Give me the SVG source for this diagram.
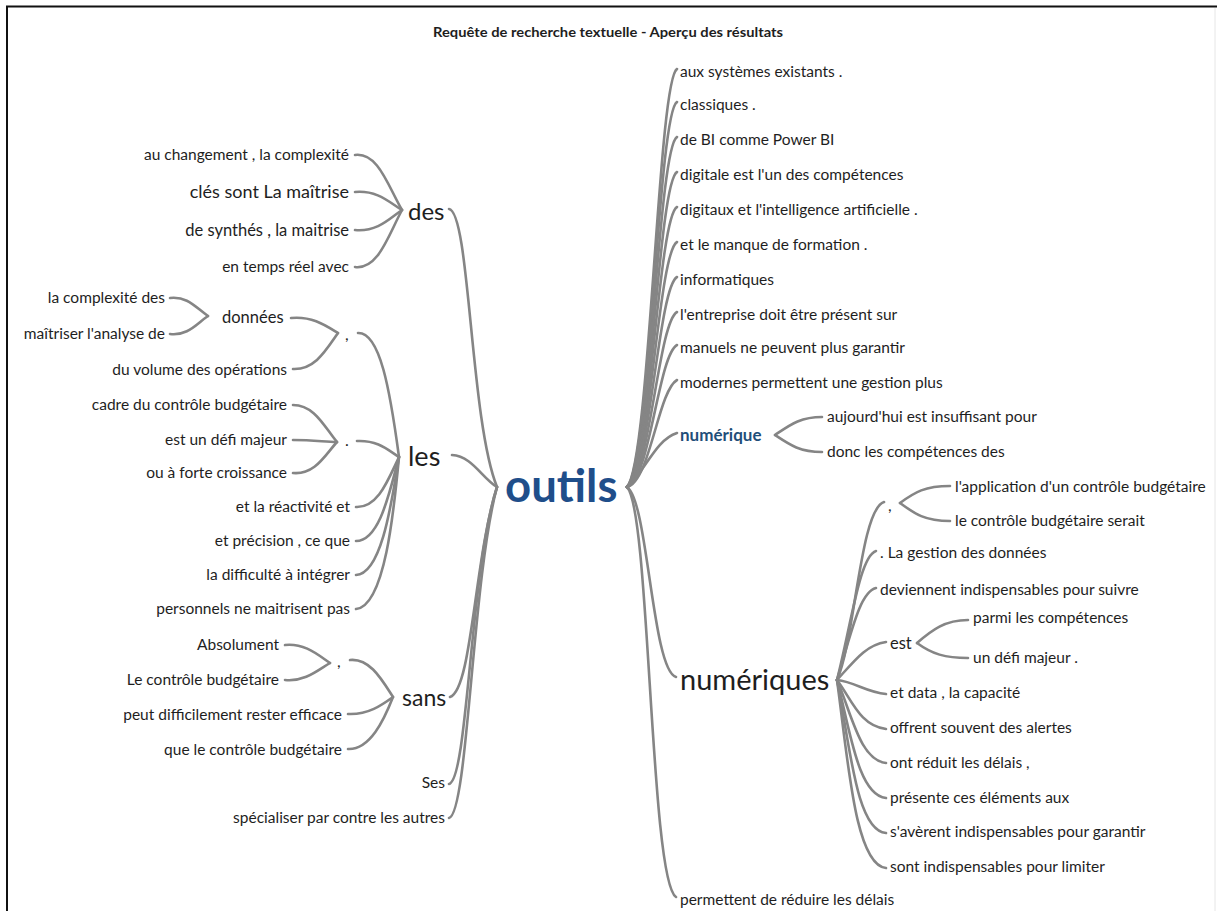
<svg xmlns="http://www.w3.org/2000/svg" width="1217" height="911" viewBox="0 0 1217 911">
<style>
text{font-family:Lato,"Open Sans","Liberation Sans",sans-serif;fill:#1e1e1e}
.t{font-size:15.5px}
.e{text-anchor:end}
.c path{fill:none;stroke:#858585;stroke-width:2.6;stroke-linecap:round}
.title{font-size:12.5px;font-weight:bold;text-anchor:middle}
.blue{fill:#1f4e8a;font-weight:bold}
</style>
<rect x="0" y="0" width="1217" height="911" fill="#fff"/>
<path d="M7,911 V6.5 H1217" fill="none" stroke="#111" stroke-width="2"/>
<line x1="1215" y1="8" x2="1215" y2="911" stroke="#e6e6e6" stroke-width="1"/>
<text class="title" x="608" y="37" textLength="350" lengthAdjust="spacingAndGlyphs">Requête de recherche textuelle - Aperçu des résultats</text>

<g class="c" id="connectors">
<path d="M355,155 C378,152 388,186 402,210"/>
<path d="M355,192 C378,190 390,203 402,210"/>
<path d="M355,230 C378,232 390,218 402,210"/>
<path d="M355,267 C378,270 388,236 402,210"/>
<path d="M449,209 C470,212 470,420 497,487"/>
<path d="M170,298 C188,296 196,308 208,316"/>
<path d="M170,334 C188,336 196,324 208,316"/>
<path d="M291,318 C312,316 325,325 338,333"/>
<path d="M293,369 C315,370 326,350 338,333"/>
<path d="M358,333 C380,332 390,390 399,457"/>
<path d="M293,405 C315,405 325,428 337,442"/>
<path d="M293,440 C315,440 325,442 337,442"/>
<path d="M293,473 C315,475 325,455 337,442"/>
<path d="M357,441 C378,440 388,450 399,457"/>
<path d="M356,507 C378,508 388,480 399,457"/>
<path d="M356,541 C380,541 390,490 399,457"/>
<path d="M356,575 C382,574 392,500 399,457"/>
<path d="M356,609 C385,606 394,510 399,457"/>
<path d="M452,455 C472,456 482,478 497,487"/>
<path d="M285,645 C305,643 318,655 330,663"/>
<path d="M285,680 C305,682 318,670 330,663"/>
<path d="M350,660 C370,658 382,680 393,697"/>
<path d="M348,714 C368,715 382,705 393,697"/>
<path d="M348,749 C370,750 384,720 393,697"/>
<path d="M450,697 C472,690 474,560 497,487"/>
<path d="M449,784 C468,780 470,570 497,487"/>
<path d="M449,818 C468,814 472,580 497,487"/>
<path d="M627,487 C650,462 658,80 677,69"/>
<path d="M627,487 C650,465 658,113 677,102"/>
<path d="M627,487 C650,468 658,148 677,137"/>
<path d="M627,487 C650,470 658,183 677,172"/>
<path d="M627,487 C650,472 658,218 677,207"/>
<path d="M627,487 C650,474 658,253 677,242"/>
<path d="M627,487 C650,476 658,288 677,277"/>
<path d="M627,487 C650,478 658,323 677,312"/>
<path d="M627,487 C650,480 658,356 677,345"/>
<path d="M627,487 C650,482 658,391 677,380"/>
<path d="M627,487 C645,472 655,440 677,433"/>
<path d="M775,435 C790,425 800,417 822,417"/>
<path d="M775,435 C790,445 800,452 822,452"/>
<path d="M627,487 C648,500 652,670 676,677"/>
<path d="M627,487 C650,510 650,880 676,897"/>
<path d="M837,680 C855,640 860,510 884,502"/>
<path d="M900,503 C915,492 925,486 950,486"/>
<path d="M900,503 C915,514 925,521 950,521"/>
<path d="M837,680 C852,620 860,556 876,551"/>
<path d="M837,680 C852,630 860,592 876,588"/>
<path d="M837,680 C855,660 866,645 886,642"/>
<path d="M917,643 C932,630 945,620 968,620"/>
<path d="M917,643 C932,654 945,658 968,658"/>
<path d="M837,680 C855,682 866,692 886,694"/>
<path d="M837,680 C852,700 860,726 886,729"/>
<path d="M837,680 C852,715 860,760 886,763"/>
<path d="M837,680 C850,730 858,795 886,798"/>
<path d="M837,680 C850,745 856,830 886,833"/>
<path d="M837,680 C848,760 855,865 886,868"/>
</g>

<g id="n-outils"><text x="505" y="502" class="blue" style="font-size:45.5px">outils</text></g>

<g id="n-des"><text x="408" y="220" style="font-size:24px">des</text></g>
<g id="n-des-1"><text class="t e" x="349" y="160">au changement , la complexité</text></g>
<g id="n-des-2"><text class="e" x="349" y="198" style="font-size:18px">clés sont La maîtrise</text></g>
<g id="n-des-3"><text class="e" x="349" y="236" style="font-size:16.5px">de synthés , la maitrise</text></g>
<g id="n-des-4"><text class="t e" x="349" y="272">en temps réel avec</text></g>

<g id="n-les"><text x="408" y="466" style="font-size:27px">les</text></g>
<g id="n-comma1"><text x="345" y="340" style="font-size:16px">,</text></g>
<g id="n-donnees"><text x="222" y="323" style="font-size:16.5px">données</text></g>
<g id="n-don-1"><text class="t e" x="165" y="303">la complexité des</text></g>
<g id="n-don-2"><text class="t e" x="165" y="339">maîtriser l'analyse de</text></g>
<g id="n-volume"><text class="t e" x="287" y="375">du volume des opérations</text></g>
<g id="n-dot"><text x="345" y="446" style="font-size:16px">.</text></g>
<g id="n-dot-1"><text class="t e" x="287" y="410">cadre du contrôle budgétaire</text></g>
<g id="n-dot-2"><text class="t e" x="287" y="445">est un défi majeur</text></g>
<g id="n-dot-3"><text class="t e" x="287" y="478">ou à forte croissance</text></g>
<g id="n-les-1"><text class="t e" x="350" y="512">et la réactivité et</text></g>
<g id="n-les-2"><text class="t e" x="350" y="546">et précision , ce que</text></g>
<g id="n-les-3"><text class="t e" x="350" y="580">la difficulté à intégrer</text></g>
<g id="n-les-4"><text class="t e" x="350" y="614">personnels ne maitrisent pas</text></g>

<g id="n-sans"><text x="402" y="706" style="font-size:23px">sans</text></g>
<g id="n-comma2"><text x="337" y="667" style="font-size:16px">,</text></g>
<g id="n-c2-1"><text class="t e" x="279" y="650">Absolument</text></g>
<g id="n-c2-2"><text class="t e" x="279" y="685">Le contrôle budgétaire</text></g>
<g id="n-sans-1"><text class="t e" x="342" y="720">peut difficilement rester efficace</text></g>
<g id="n-sans-2"><text class="t e" x="342" y="755">que le contrôle budgétaire</text></g>
<g id="n-ses"><text class="t e" x="445" y="788">Ses</text></g>
<g id="n-spec"><text class="t e" x="445" y="823">spécialiser par contre les autres</text></g>

<g id="n-r1"><text class="t" x="680" y="77">aux systèmes existants .</text></g>
<g id="n-r2"><text class="t" x="680" y="110">classiques .</text></g>
<g id="n-r3"><text class="t" x="680" y="145">de BI comme Power BI</text></g>
<g id="n-r4"><text class="t" x="680" y="180">digitale est l'un des compétences</text></g>
<g id="n-r5"><text class="t" x="680" y="215">digitaux et l'intelligence artificielle .</text></g>
<g id="n-r6"><text class="t" x="680" y="250">et le manque de formation .</text></g>
<g id="n-r7"><text class="t" x="680" y="285">informatiques</text></g>
<g id="n-r8"><text class="t" x="680" y="320">l'entreprise doit être présent sur</text></g>
<g id="n-r9"><text class="t" x="680" y="353">manuels ne peuvent plus garantir</text></g>
<g id="n-r10"><text class="t" x="680" y="388">modernes permettent une gestion plus</text></g>
<g id="n-numerique"><text x="680" y="441" class="blue" style="font-size:17px;fill:#1f4e79">numérique</text></g>
<g id="n-num-1"><text class="t" x="827" y="422">aujourd'hui est insuffisant pour</text></g>
<g id="n-num-2"><text class="t" x="827" y="457">donc les compétences des</text></g>

<g id="n-numeriques"><text x="680" y="690" style="font-size:29px">numériques</text></g>
<g id="n-comma3"><text x="888" y="511" style="font-size:16px">,</text></g>
<g id="n-c3-1"><text class="t" x="955" y="492">l'application d'un contrôle budgétaire</text></g>
<g id="n-c3-2"><text class="t" x="955" y="526">le contrôle budgétaire serait</text></g>
<g id="n-nq-1"><text class="t" x="880" y="558">. La gestion des données</text></g>
<g id="n-nq-2"><text class="t" x="880" y="595">deviennent indispensables pour suivre</text></g>
<g id="n-est"><text x="890" y="649" style="font-size:16.5px">est</text></g>
<g id="n-est-1"><text class="t" x="973" y="623">parmi les compétences</text></g>
<g id="n-est-2"><text class="t" x="973" y="663">un défi majeur .</text></g>
<g id="n-nq-3"><text class="t" x="890" y="698">et data , la capacité</text></g>
<g id="n-nq-4"><text class="t" x="890" y="733">offrent souvent des alertes</text></g>
<g id="n-nq-5"><text class="t" x="890" y="768">ont réduit les délais ,</text></g>
<g id="n-nq-6"><text class="t" x="890" y="803">présente ces éléments aux</text></g>
<g id="n-nq-7"><text class="t" x="890" y="837">s'avèrent indispensables pour garantir</text></g>
<g id="n-nq-8"><text class="t" x="890" y="872">sont indispensables pour limiter</text></g>
<g id="n-perm"><text class="t" x="680" y="905">permettent de réduire les délais</text></g>
</svg>
